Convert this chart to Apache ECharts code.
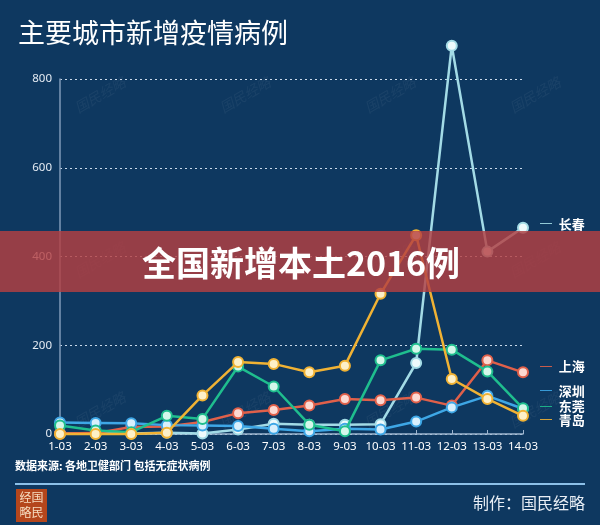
<!DOCTYPE html>
<html>
<head>
<meta charset="utf-8">
<script src="https://cdn.jsdelivr.net/npm/echarts@6.0.0/dist/echarts.min.js"></script>
<style>
  html, body { margin: 0; padding: 0; background: #0e3860; }
  #chart { width: 600px; height: 525px; }
</style>
</head>
<body>
<div id="chart"></div>
<script>
// data
const days = ["1-03", "2-03", "3-03", "4-03", "5-03", "6-03", "7-03", "8-03", "9-03", "10-03", "11-03", "12-03", "13-03", "14-03"];
const yTicks = [0, 200, 400, 600, 800];
const changchun = [1, 1, 1, 3, 1, 10, 23, 21, 21, 22, 160, 875, 411, 465];
const shanghai = [1, 2, 16, 17, 27, 47, 54, 64, 79, 76, 82, 64, 166, 139];
const shenzhen = [26, 25, 24, 20, 19, 18, 12, 6, 12, 10, 28, 60, 86, 57];
const dongguan = [19, 8, 4, 41, 34, 152, 107, 21, 6, 166, 192, 190, 141, 58];
const qingdao = [0, 0, 0, 3, 87, 162, 158, 139, 154, 316, 448, 124, 79, 41];

const cityNames = ["长春", "上海", "深圳", "东莞", "青岛"];
const cityData = [changchun, shanghai, shenzhen, dongguan, qingdao];
const lineColors = ["#a3dbe6", "#e0604a", "#3ea7e6", "#1fbe8e", "#f0b234"];
const dotColors = ["#eefafc", "#fbd9d2", "#d8effc", "#d4f7ea", "#fdf0c8"];
const labelShift = [[0, -4], [0, -6], [0, -18], [0, -2], [0, 4]];

const chartDom = document.getElementById("chart");
const chart = echarts.init(chartDom, null, { renderer: "canvas" });

function makeSeries(i) {
  return {
    name: cityNames[i],
    type: "line",
    data: cityData[i],
    clip: false,
    symbol: "circle",
    symbolSize: 10,
    lineStyle: { color: lineColors[i], width: 2.5 },
    itemStyle: { color: dotColors[i], borderColor: lineColors[i], borderWidth: 2 },
    endLabel: {
      show: true,
      distance: 17,
      offset: labelShift[i],
      formatter: "{d|—}  {n|{a}}",
      rich: {
        d: { color: lineColors[i], fontSize: 12 },
        n: { color: "#ffffff", fontSize: 13, fontWeight: "bold", fontFamily: "Noto Sans CJK SC" },
      },
    },
    z: 3 + i,
  };
}

// faint watermark
const marks = [];
[[100, 95], [245, 95], [390, 95], [535, 95], [100, 260], [245, 260], [390, 260], [535, 260], [100, 410], [245, 410], [390, 410], [535, 410]].forEach(function (p) {
  marks.push({
    type: "text",
    x: p[0],
    y: p[1],
    rotation: Math.PI / 6,
    style: {
      text: "国民经略",
      fill: "rgba(255,255,255,0.05)",
      font: "italic 14px 'Noto Sans CJK SC'",
      textAlign: "center",
      textVerticalAlign: "middle",
    },
    z: 1,
  });
});

const option = {
  backgroundColor: "#0e3860",
  animation: false,
  title: {
    text: "主要城市新增疫情病例",
    left: 13,
    top: 14,
    textStyle: { color: "#ffffff", fontSize: 27, fontWeight: "normal", fontFamily: "Noto Sans CJK SC" },
  },
  grid: { left: 60, right: 77, top: 79, bottom: 91 },
  xAxis: {
    type: "category",
    data: days,
    boundaryGap: false,
    axisLine: { lineStyle: { color: "#9fb6cf", width: 1.5 } },
    axisTick: { show: true, inside: true, length: 4, lineStyle: { color: "#9fb6cf" } },
    axisLabel: { color: "#ffffff", fontSize: 11.5, margin: 7, interval: 0, fontFamily: "Noto Sans" },
    splitLine: { show: false },
  },
  yAxis: {
    type: "value",
    min: yTicks[0],
    max: yTicks[yTicks.length - 1],
    interval: yTicks[1] - yTicks[0],
    axisLine: { show: true, lineStyle: { color: "#7f9ab8", width: 1.5 } },
    axisTick: { show: false },
    axisLabel: { color: "#e4ebf3", fontSize: 11.5, margin: 8, fontFamily: "Noto Sans" },
    splitLine: { lineStyle: { color: "#c9d9ea", type: [2, 3], width: 1 } },
  },
  series: cityNames.map(function (n, i) { return makeSeries(i); }),
  graphic: marks.concat([
    {
      type: "rect",
      shape: { x: 0, y: 231, width: 600, height: 61 },
      style: { fill: "rgba(180,64,66,0.82)" },
      z: 100,
    },
    {
      type: "text",
      x: 301,
      y: 263,
      style: {
        text: "全国新增本土2016例",
        fill: "#ffffff",
        font: "bold 34px 'Noto Sans CJK SC'",
        textAlign: "center",
        textVerticalAlign: "middle",
      },
      z: 101,
    },
    {
      type: "text",
      x: 15,
      y: 466,
      style: {
        text: "数据来源: 各地卫健部门 包括无症状病例",
        fill: "#ffffff",
        font: "bold 11px 'Noto Sans CJK SC'",
        textVerticalAlign: "middle",
      },
      z: 100,
    },
    {
      type: "line",
      shape: { x1: 15, y1: 484, x2: 585, y2: 484 },
      style: { stroke: "#8cc0e8", lineWidth: 2 },
      z: 100,
    },
    {
      type: "rect",
      shape: { x: 16, y: 489, width: 31, height: 33 },
      style: { fill: "#b4461c" },
      z: 100,
    },
    {
      type: "text",
      x: 31.5,
      y: 505,
      style: {
        text: "经国\n略民",
        fill: "#f6dcc0",
        font: "12px 'Noto Sans CJK SC'",
        lineHeight: 15,
        textAlign: "center",
        textVerticalAlign: "middle",
      },
      z: 101,
    },
    {
      type: "text",
      x: 585,
      y: 503,
      style: {
        text: "制作：国民经略",
        fill: "#e8eef5",
        font: "16px 'Noto Sans CJK SC'",
        textAlign: "right",
        textVerticalAlign: "middle",
      },
      z: 100,
    },
  ]),
};

chart.setOption(option);
</script>
</body>
</html>
